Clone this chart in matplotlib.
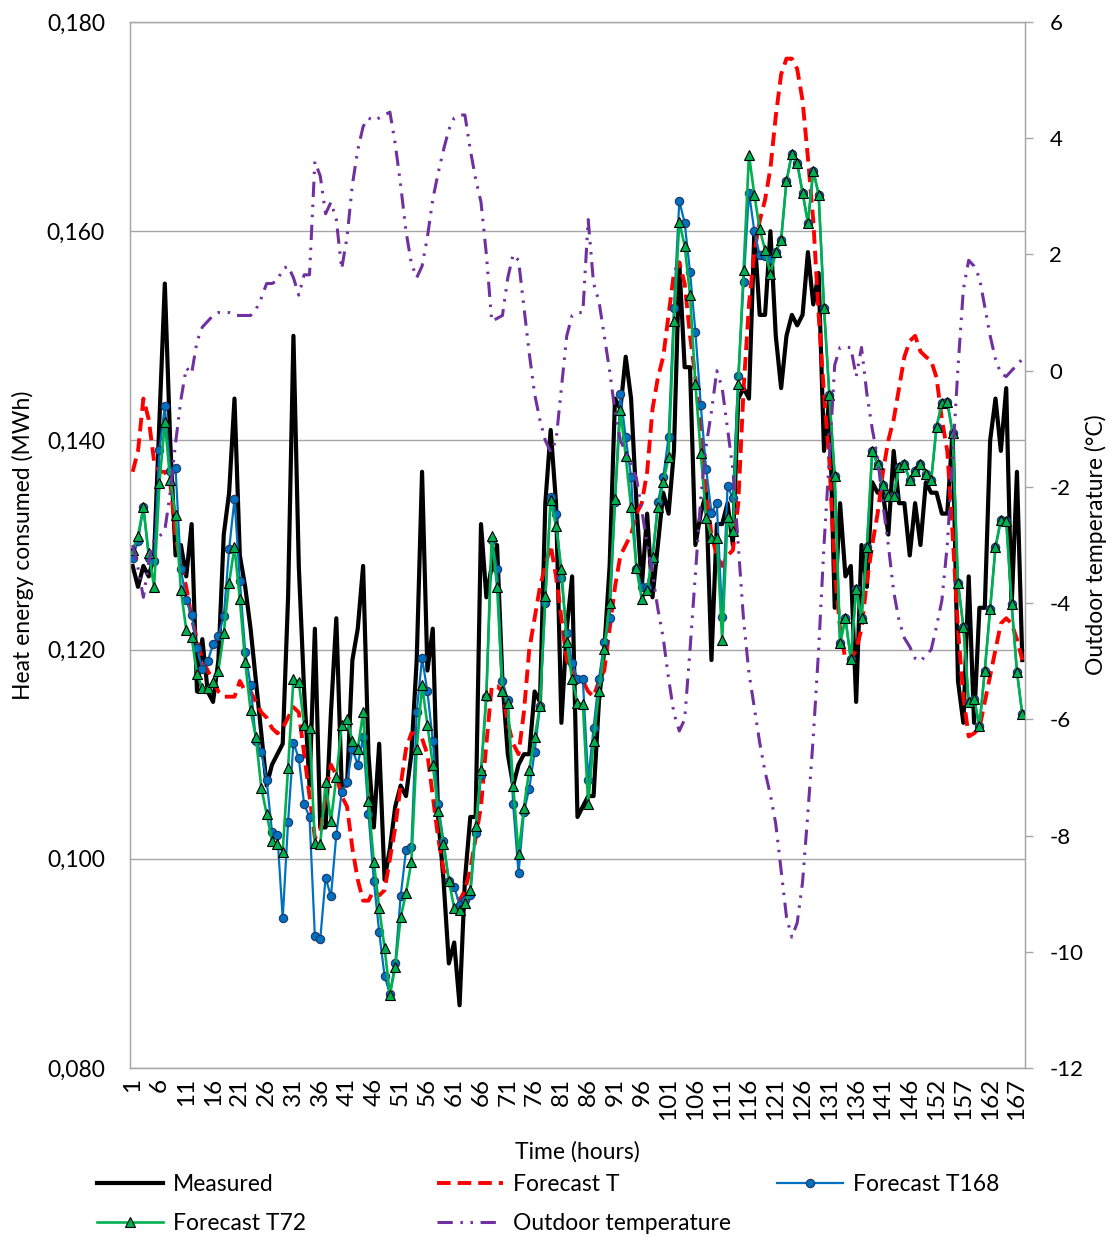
import matplotlib

matplotlib.use("Agg")
import matplotlib.pyplot as plt
import numpy as np
from matplotlib.lines import Line2D
from matplotlib.ticker import FuncFormatter, MultipleLocator

plt.rcParams["font.family"] = ["Lato", "DejaVu Sans"]
plt.rcParams["axes.unicode_minus"] = False

# hour labels (hour 147 is missing in the source data)
hours = list(range(1, 147)) + list(range(148, 169))

measured = [
    0.128, 0.126, 0.128, 0.127, 0.129, 0.142, 0.155, 0.140, 0.129, 0.130,
    0.127, 0.132, 0.116, 0.121, 0.116, 0.115, 0.119, 0.131, 0.135, 0.144,
    0.129, 0.126, 0.122, 0.117, 0.112, 0.107, 0.109, 0.110, 0.111, 0.125,
    0.150, 0.128, 0.116, 0.107, 0.122, 0.103, 0.103, 0.114, 0.123, 0.107,
    0.107, 0.119, 0.122, 0.128, 0.110, 0.103, 0.111, 0.098, 0.101, 0.105,
    0.107, 0.106, 0.110, 0.119, 0.137, 0.118, 0.122, 0.104, 0.098, 0.090,
    0.092, 0.086, 0.098, 0.104, 0.104, 0.132, 0.125, 0.128, 0.130, 0.117,
    0.110, 0.107, 0.109, 0.110, 0.110, 0.116, 0.115, 0.134, 0.141, 0.134,
    0.113, 0.122, 0.127, 0.104, 0.105, 0.106, 0.106, 0.115, 0.120, 0.128,
    0.144, 0.143, 0.148, 0.144, 0.134, 0.126, 0.133, 0.125, 0.130, 0.135,
    0.133, 0.139, 0.157, 0.147, 0.147, 0.130, 0.133, 0.135, 0.119, 0.132,
    0.132, 0.134, 0.130, 0.144, 0.145, 0.144, 0.160, 0.152, 0.152, 0.160,
    0.150, 0.145, 0.150, 0.152, 0.151, 0.152, 0.158, 0.153, 0.156, 0.139,
    0.144, 0.124, 0.134, 0.127, 0.128, 0.115, 0.130, 0.126, 0.136, 0.135,
    0.135, 0.131, 0.139, 0.134, 0.134, 0.129, 0.134, 0.130, 0.136, 0.135,
    0.135, 0.133, 0.133, 0.141, 0.117, 0.113, 0.127, 0.113, 0.124, 0.124,
    0.140, 0.144, 0.139, 0.145, 0.124, 0.137, 0.119,
]

forecast_t = [
    0.137, 0.139, 0.144, 0.142, 0.138, 0.137, 0.137, 0.136, 0.131, 0.128,
    0.126, 0.123, 0.121, 0.119, 0.118, 0.117, 0.116, 0.1155, 0.1155, 0.1155,
    0.117, 0.116, 0.116, 0.115, 0.114, 0.1135, 0.1125, 0.112, 0.1125, 0.1135,
    0.1145, 0.114, 0.110, 0.106, 0.102, 0.1025, 0.106, 0.109, 0.108, 0.106,
    0.105, 0.101, 0.098, 0.096, 0.096, 0.097, 0.0965, 0.097, 0.100, 0.103,
    0.107, 0.1105, 0.112, 0.112, 0.1115, 0.110, 0.106, 0.102, 0.099, 0.0975,
    0.097, 0.096, 0.097, 0.099, 0.102, 0.105, 0.111, 0.1165, 0.1165, 0.116,
    0.113, 0.111, 0.110, 0.114, 0.120, 0.123, 0.126, 0.128, 0.130, 0.127,
    0.123, 0.119, 0.118, 0.117, 0.117, 0.116, 0.1155, 0.117, 0.118, 0.122,
    0.126, 0.129, 0.130, 0.131, 0.133, 0.134, 0.137, 0.143, 0.146, 0.148,
    0.152, 0.156, 0.157, 0.155, 0.150, 0.146, 0.141, 0.135, 0.131, 0.129,
    0.128, 0.129, 0.1295, 0.134, 0.145, 0.153, 0.158, 0.161, 0.163, 0.166,
    0.171, 0.175, 0.1765, 0.1765, 0.1755, 0.1725, 0.167, 0.161, 0.152, 0.1445,
    0.138, 0.1275, 0.122, 0.119, 0.119, 0.120, 0.122, 0.1265, 0.130, 0.133,
    0.137, 0.140, 0.142, 0.145, 0.148, 0.1495, 0.150, 0.1485, 0.148, 0.1476,
    0.146, 0.142, 0.139, 0.131, 0.122, 0.1155, 0.1117, 0.112, 0.1125, 0.115,
    0.1175, 0.120, 0.1225, 0.123, 0.1225, 0.121, 0.119,
]

forecast_t168 = [
    0.1288, 0.1304, 0.1336, 0.1288, 0.1285, 0.1391, 0.1433, 0.1371, 0.1374, 0.1277,
    0.1247, 0.1233, 0.1202, 0.1181, 0.1189, 0.1205, 0.1213, 0.1232, 0.1296, 0.1344,
    0.1266, 0.1198, 0.1166, 0.1113, 0.1102, 0.1075, 0.1026, 0.1023, 0.0943, 0.1035,
    0.1111, 0.1096, 0.1052, 0.1040, 0.0926, 0.0923, 0.0982, 0.0964, 0.1023, 0.1064,
    0.1073, 0.1105, 0.1090, 0.1116, 0.1043, 0.0979, 0.0930, 0.0888, 0.0871, 0.0900,
    0.0964, 0.1008, 0.1011, 0.1140, 0.1192, 0.1160, 0.1113, 0.1052, 0.1017, 0.0979,
    0.0973, 0.0956, 0.0961, 0.0965, 0.1025, 0.1080, 0.1155, 0.1305, 0.1277, 0.1170,
    0.1152, 0.1052, 0.0986, 0.1045, 0.1067, 0.1102, 0.1146, 0.1245, 0.1346, 0.1330,
    0.1268, 0.1216, 0.1187, 0.1172, 0.1172, 0.1075, 0.1125, 0.1172, 0.1207, 0.1230,
    0.1341, 0.1444, 0.1403, 0.1365, 0.1277, 0.1260, 0.1260, 0.1286, 0.1341, 0.1365,
    0.1403, 0.1527, 0.1629, 0.1608, 0.1561, 0.1504, 0.1434, 0.1373, 0.1331, 0.1340,
    0.1231, 0.1356, 0.1345, 0.1462, 0.1551, 0.1637, 0.1600, 0.1577, 0.1576, 0.1573,
    0.1580, 0.1592, 0.1648, 0.1674, 0.1665, 0.1637, 0.1608, 0.1658, 0.1635, 0.1527,
    0.1443, 0.1366, 0.1206, 0.1230, 0.1191, 0.1258, 0.1230, 0.1298, 0.1390, 0.1377,
    0.1357, 0.1347, 0.1347, 0.1375, 0.1377, 0.1362, 0.1371, 0.1377, 0.1368, 0.1362,
    0.1413, 0.1436, 0.1437, 0.1407, 0.1264, 0.1222, 0.1150, 0.1153, 0.1127, 0.1180,
    0.1239, 0.1298, 0.1324, 0.1323, 0.1244, 0.1179, 0.1138,
]

forecast_t72 = [
    0.1295, 0.1309, 0.1336, 0.1292, 0.1260, 0.1359, 0.1418, 0.1362, 0.1329, 0.1257,
    0.1219, 0.1212, 0.1177, 0.1163, 0.1163, 0.1169, 0.1180, 0.1216, 0.1264, 0.1298,
    0.1248, 0.1188, 0.1142, 0.1116, 0.1068, 0.1043, 0.1017, 0.1014, 0.1007, 0.1087,
    0.1172, 0.1169, 0.1128, 0.1125, 0.1015, 0.1014, 0.1073, 0.1036, 0.1078, 0.1128,
    0.1134, 0.1113, 0.1105, 0.1140, 0.1055, 0.0997, 0.0953, 0.0915, 0.0870, 0.0897,
    0.0944, 0.0967, 0.0997, 0.1105, 0.1166, 0.1128, 0.1090, 0.1046, 0.1014, 0.0979,
    0.0953, 0.0951, 0.0958, 0.0970, 0.1031, 0.1085, 0.1157, 0.1309, 0.1260, 0.1160,
    0.1149, 0.1070, 0.1005, 0.1049, 0.1085, 0.1116, 0.1146, 0.1251, 0.1343, 0.1318,
    0.1277, 0.1207, 0.1172, 0.1149, 0.1148, 0.1052, 0.1113, 0.1160, 0.1201, 0.1245,
    0.1344, 0.1429, 0.1385, 0.1336, 0.1278, 0.1248, 0.1257, 0.1289, 0.1336, 0.1360,
    0.1384, 0.1514, 0.1609, 0.1586, 0.1539, 0.1454, 0.1388, 0.1326, 0.1307, 0.1307,
    0.1209, 0.1327, 0.1313, 0.1454, 0.1563, 0.1673, 0.1635, 0.1602, 0.1582, 0.1559,
    0.1580, 0.1592, 0.1648, 0.1674, 0.1665, 0.1637, 0.1608, 0.1658, 0.1635, 0.1527,
    0.1443, 0.1366, 0.1206, 0.1230, 0.1191, 0.1258, 0.1230, 0.1298, 0.1390, 0.1377,
    0.1357, 0.1347, 0.1347, 0.1375, 0.1377, 0.1362, 0.1371, 0.1377, 0.1368, 0.1362,
    0.1413, 0.1436, 0.1437, 0.1407, 0.1264, 0.1222, 0.1150, 0.1153, 0.1127, 0.1180,
    0.1239, 0.1298, 0.1324, 0.1323, 0.1244, 0.1179, 0.1138,
]

outdoor_temp = [
    -3.0, -3.4, -3.9, -3.3, -2.9, -2.85, -2.75, -2.1, -1.25, -0.5,
    0.05, -0.05, 0.5, 0.75, 0.85, 0.95, 1.0, 1.0, 1.0, 0.95,
    0.95, 0.95, 0.95, 1.05, 1.25, 1.5, 1.5, 1.55, 1.75, 1.8,
    1.6, 1.3, 1.65, 1.65, 3.6, 3.35, 2.7, 2.9, 2.6, 1.75,
    2.3, 3.2, 3.8, 4.2, 4.35, 4.3, 4.35, 4.4, 4.45, 3.9,
    3.2, 2.4, 1.85, 1.6, 1.8, 2.3, 2.95, 3.4, 3.8, 4.15,
    4.35, 4.4, 4.4, 3.8, 3.3, 2.9, 2.0, 0.85, 0.9, 0.95,
    1.6, 2.0, 1.9, 1.1, 0.3, -0.4, -0.85, -1.2, -1.4, -1.2,
    -0.3, 0.6, 0.95, 1.0, 1.0, 2.6, 1.5, 1.2, 0.6, 0.0,
    -0.7, -1.2, -1.4, -1.6, -1.85, -2.4, -3.0, -3.5, -4.1, -4.6,
    -5.3, -5.9, -6.2, -6.0, -4.8, -3.5, -2.2, -1.3, -0.7, 0.0,
    -0.3, -1.0, -1.7, -3.0, -4.3, -5.2, -5.8, -6.4, -6.9, -7.3,
    -7.8, -8.6, -9.4, -9.75, -9.5, -8.8, -7.6, -6.3, -4.8, -3.0,
    -1.5, 0.1, 0.4, 0.4, 0.4, -0.1, 0.4, -0.4, -1.0, -1.5,
    -2.3, -3.0, -3.8, -4.3, -4.6, -4.75, -4.95, -5.0, -4.9, -4.8,
    -4.4, -3.95, -3.0, -1.5, 0.05, 1.4, 1.9, 1.8, 1.6, 1.1,
    0.6, 0.2, -0.05, -0.1, 0.0, 0.1, 0.2,
]

x = np.arange(len(hours))
grey = "#A6A6A6"

fig = plt.figure(figsize=(11.1, 12.37), dpi=100)
ax = fig.add_axes([0.1171, 0.1366, 0.8063, 0.8456])

ax.plot(x, measured, color="black", lw=3.0, zorder=2, label="Measured")
ax.plot(x, forecast_t, color="#FF0000", lw=2.8, dashes=(3.5, 1.8), zorder=3, label="Forecast T")
ax.plot(x, forecast_t168, color="#0070C0", lw=1.6, marker="o", ms=6,
        mfc="#0070C0", mec="#1F3864", mew=0.8, zorder=4, label="Forecast T168")
ax.plot(x, forecast_t72, color="#00B050", lw=1.9, marker="^", ms=7,
        mfc="#00B050", mec="black", mew=0.8, zorder=5, label="Forecast T72")

ax.set_xlim(-0.5, len(hours) - 0.5)
ax.set_ylim(0.08, 0.18)
ax.yaxis.set_major_locator(MultipleLocator(0.02))
ax.yaxis.set_major_formatter(FuncFormatter(lambda v, p: f"{v:.3f}".replace(".", ",")))
ax.grid(axis="y", color=grey, lw=1.0, zorder=0)
ax.set_axisbelow(True)

tick_idx = x[::5]
ax.set_xticks(tick_idx)
ax.set_xticklabels([str(hours[i]) for i in tick_idx], rotation=90)
ax.tick_params(axis="x", length=0, pad=7, labelsize=17.5)
ax.tick_params(axis="y", length=0, pad=18, labelsize=16.5)
for side in ["left", "bottom", "top", "right"]:
    ax.spines[side].set_color(grey)
    ax.spines[side].set_linewidth(1.0)

ax.set_xlabel("Time (hours)", fontsize=16.5, labelpad=15)
ax.set_ylabel("Heat energy consumed (MWh)", fontsize=16.5, labelpad=9)

ax2 = ax.twinx()
ax2.plot(x, outdoor_temp, color="#7030A0", lw=2.2,
         dashes=(5, 2.5, 0.8, 2.5, 0.8, 2.5), zorder=6, label="Outdoor temperature")
ax2.set_ylim(-12, 6)
ax2.yaxis.set_major_locator(MultipleLocator(2))
ax2.tick_params(axis="y", length=5.5, width=1.0, color=grey, pad=12, labelsize=16)
for side in ["left", "bottom", "top", "right"]:
    ax2.spines[side].set_color(grey)
ax2.set_ylabel("Outdoor temperature (°C)", fontsize=16.5, labelpad=1)

# legend, three columns placed like the original
h_meas = Line2D([], [], color="black", lw=3.0)
h_t = Line2D([], [], color="#FF0000", lw=2.8, dashes=(3.5, 1.8))
h_t168 = Line2D([], [], color="#0070C0", lw=1.6, marker="o", ms=6,
                mfc="#0070C0", mec="#1F3864", mew=0.8)
h_t72 = Line2D([], [], color="#00B050", lw=1.9, marker="^", ms=7,
               mfc="#00B050", mec="black", mew=0.8)
h_temp = Line2D([], [], color="#7030A0", lw=2.2, dashes=(5, 2.5, 0.8, 2.5, 0.8, 2.5))

columns = [
    (97, [h_meas, h_t72], ["Measured", "Forecast T72"]),
    (437, [h_t, h_temp], ["Forecast T", "Outdoor temperature"]),
    (777, [h_t168], ["Forecast T168"]),
]
for left_px, hs, labels in columns:
    fig.legend(hs, labels, loc="upper left", bbox_to_anchor=(left_px / 1110, 1 - 1174 / 1237),
               frameon=False, fontsize=16.5, handlelength=2.9, handletextpad=0.4,
               labelspacing=0.8, borderpad=0, borderaxespad=0)

fig.savefig("out.png", dpi=100)
